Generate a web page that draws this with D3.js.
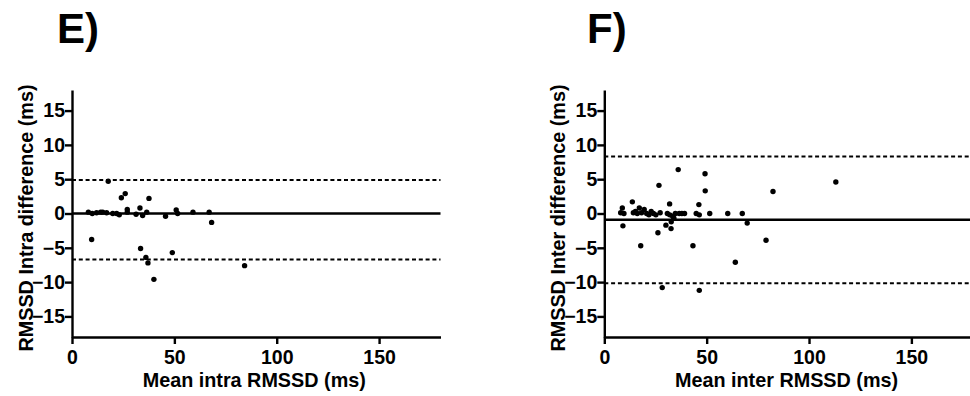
<!DOCTYPE html>
<html>
<head>
<meta charset="utf-8">
<script src="https://cdn.jsdelivr.net/npm/d3@7"></script>
<style>
  body { margin: 0; background: #fff; }
  svg { display: block; }
  .axis path, .axis line { stroke: #000; stroke-width: 2.4px; }
  .axis text { font-family: "Liberation Sans", Arial, sans-serif; font-weight: bold; font-size: 19.5px; fill: #000; }
  .lbl { font-family: "Liberation Sans", Arial, sans-serif; font-weight: bold; font-size: 19.8px; fill: #000; }
  .ttl { font-family: "Liberation Sans", Arial, sans-serif; font-weight: bold; font-size: 42px; fill: #000; }
</style>
</head>
<body>
<div id="chart"></div>
<script>
// axis setup shared by both panels
var xTicks = [0, 50, 100, 150];
var yTicks = [-15, -10, -5, 0, 5, 10, 15];
var xDomain = [0, 180];
var yDomain = [-18, 18];

// panel E: intra
var intraMean = [8.0, 9.9, 9.6, 12.0, 14.0, 15.0, 16.9, 17.7, 19.9, 21.8, 23.1, 24.1, 26.0, 27.0, 27.0,
                 31.3, 33.2, 33.5, 34.5, 36.1, 36.5, 37.1, 37.6, 40.0, 45.7, 49.0, 50.9, 51.6,
                 59.1, 67.0, 68.2, 84.3];
var intraDiff = [0.2, 0.0, -3.8, 0.1, 0.2, 0.2, 0.1, 4.7, 0.0, 0.0, -0.2, 2.3, 2.9, 0.6, 0.2,
                 -0.1, 0.8, -5.1, -0.3, -6.4, 0.2, -7.2, 2.2, -9.6, -0.4, -5.7, 0.5, 0.0,
                 0.2, 0.2, -1.3, -7.6];
var intraLines = {center: 0, upper: 4.9, lower: -6.7};

// panel F: inter
var interMean = [8.0, 8.8, 9.6, 9.1, 13.7, 14.2, 15.2, 16.1, 17.1, 17.8, 18.2, 19.5, 20.7, 21.8,
                 22.9, 24.0, 25.2, 26.2, 26.7, 27.3, 30.1, 30.8, 31.9, 32.0, 32.6, 32.7, 33.4,
                 34.0, 34.7, 36.1, 36.6, 37.9, 39.2, 43.3, 28.3, 44.9, 46.2, 46.4, 46.4, 49.2,
                 49.3, 51.5, 60.3, 64.0, 67.4, 69.8, 79.0, 82.4, 113.1];
var interDiff = [0.1, 0.8, 0.0, -1.8, 1.7, 0.1, 0.3, 0.0, 0.8, -4.7, 0.1, 0.6, 0.0, -0.2,
                 0.3, 0.0, -0.2, -2.8, 4.1, 0.1, -1.7, 0.0, 1.4, -0.2, -2.2, -1.2, -0.4,
                 -0.7, 0.0, 6.4, 0.0, 0.0, 0.0, -4.7, -10.8, 0.0, 1.3, -0.2, -11.2, 5.8,
                 3.3, 0.0, 0.0, -7.1, 0.0, -1.4, -3.9, 3.2, 4.6];
var interLines = {center: -0.92, upper: 8.3, lower: -10.15};

var W = 970, H = 396;
var svg = d3.select('#chart').append('svg').attr('width', W).attr('height', H);

function drawPanel(cfg){
    var g = svg.append('g');

    var x = d3.scaleLinear().domain(xDomain).range([cfg.left, cfg.left + 368.5]);
    var y = d3.scaleLinear().domain(yDomain).range([337, 90]);

    // title letter
    g.append('text').attr('class', 'ttl')
        .attr('x', cfg.titleX).attr('y', 43)
        .text(cfg.title);

    // reference lines
    var x0 = x(xDomain[0]), x1 = x(xDomain[1]);
    g.append('line')
        .attr('x1', x0).attr('x2', x1)
        .attr('y1', y(cfg.lines.center)).attr('y2', y(cfg.lines.center))
        .style('stroke', '#000').style('stroke-width', 2.4);
    [cfg.lines.upper, cfg.lines.lower].forEach(function(v){
        g.append('line')
            .attr('x1', x0).attr('x2', x1)
            .attr('y1', y(v)).attr('y2', y(v))
            .style('stroke', '#000').style('stroke-width', 2)
            .style('stroke-dasharray', '4,2.8');
    });

    // axes
    g.append('g').attr('class', 'axis')
        .attr('transform', 'translate(0,' + 337 + ')')
        .call(d3.axisBottom(x).tickValues(xTicks).tickSize(7).tickSizeOuter(0).tickPadding(6));
    g.append('g').attr('class', 'axis')
        .attr('transform', 'translate(' + x0 + ',0)')
        .call(d3.axisLeft(y).tickValues(yTicks).tickSize(7).tickSizeOuter(0).tickPadding(0));

    // points
    g.selectAll('circle.pt')
        .data(cfg.xs.map(function(v, i){ return {x: v, y: cfg.ys[i]}; }))
        .enter()
        .append('circle')
        .attr('class', 'pt')
        .attr('cx', function(d){ return x(d.x); })
        .attr('cy', function(d){ return y(d.y); })
        .attr('r', 2.7)
        .style('fill', '#000');

    // axis labels
    g.append('text').attr('class', 'lbl')
        .attr('text-anchor', 'middle')
        .attr('x', (x0 + x(xDomain[1])) / 2 - 2).attr('y', 387)
        .text(cfg.xLabel);
    g.append('text').attr('class', 'lbl')
        .attr('text-anchor', 'middle')
        .attr('transform', 'translate(' + cfg.yLabelX + ',218) rotate(-90)')
        .text(cfg.yLabel);
}

drawPanel({title: 'E)', titleX: 57, left: 72, xs: intraMean, ys: intraDiff, lines: intraLines,
           xLabel: 'Mean intra RMSSD (ms)', yLabel: 'RMSSD Intra difference (ms)', yLabelX: 33});
drawPanel({title: 'F)', titleX: 587, left: 604.3, xs: interMean, ys: interDiff, lines: interLines,
           xLabel: 'Mean inter RMSSD (ms)', yLabel: 'RMSSD Inter difference (ms)', yLabelX: 565});
</script>
</body>
</html>
